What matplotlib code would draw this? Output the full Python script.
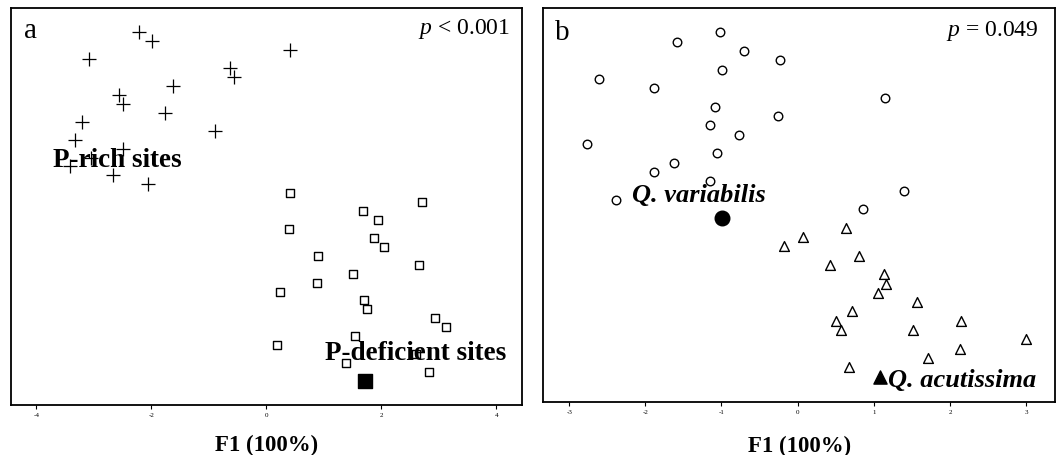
import matplotlib
matplotlib.use("Agg")
import matplotlib.pyplot as plt

plt.rcParams['font.family'] = ['Liberation Serif', 'DejaVu Serif']
plt.rcParams['axes.unicode_minus'] = False
plt.rcParams['mathtext.fontset'] = 'custom'
plt.rcParams['mathtext.rm'] = 'Liberation Serif'
plt.rcParams['mathtext.it'] = 'Liberation Serif:italic'

# panel a: F1 scores by case (case order from top)
rich_f1 = [-2.21, -1.99, 0.42, -3.08, -0.63, -0.56, -1.63, -2.57, -2.49, -1.77,
           -3.21, -0.90, -3.33, -2.50, -3.05, -3.41, -2.66, -2.06]
rich_case = list(range(1, 19))
deficient_f1 = [0.42, 2.71, 1.68, 1.95, 0.40, 1.87, 2.05, 0.90, 2.66, 1.51,
                0.88, 0.24, 1.70, 1.76, 2.93, 3.13, 1.55, 0.19, 2.61, 1.39, 2.84]
deficient_case = list(range(19, 40))
deficient_centroid = (1.72, 40)

# panel b
variabilis_f1 = [-1.02, -1.59, -0.70, -0.23, -0.99, -2.61, -1.88, 1.15, -1.08, -0.26,
                 -1.15, -0.77, -2.77, -1.06, -1.63, -1.88, -1.15, 1.40, -2.38, 0.86]
variabilis_case = list(range(1, 21))
variabilis_centroid = (-0.99, 21)
acutissima_f1 = [0.63, 0.07, -0.18, 0.80, 0.42, 1.14, 1.16, 1.05, 1.57, 0.71,
                 0.50, 2.15, 0.57, 1.52, 3.00, 2.13, 1.71, 0.67]
acutissima_case = [22, 23, 24, 25, 26, 27, 28, 29, 30, 31, 32, 32, 33, 33, 34, 35, 36, 37]
acutissima_centroid = (1.08, 38)

fig = plt.figure(figsize=(10.63, 4.56), dpi=100)
ax1 = fig.add_axes([0.0104, 0.1096, 0.4807, 0.870])
ax2 = fig.add_axes([0.5111, 0.1169, 0.4814, 0.8627])

# panel a
ax1.scatter(rich_f1, rich_case, marker='+', s=100, c='black', linewidths=0.9)
ax1.scatter(deficient_f1, deficient_case, marker='s', s=30, facecolors='white',
            edgecolors='black', linewidths=1.0)
ax1.scatter(*deficient_centroid, marker='s', s=100, c='black')
ax1.set_xlim(-4.44, 4.45)
ax1.set_ylim(42.7, -1.7)
ax1.set_xticks([-4, -2, 0, 2, 4])
ax1.text(0.025, 0.945, 'a', transform=ax1.transAxes, fontsize=21, va='center')
ax1.text(0.977, 0.95, '$p$ < 0.001', transform=ax1.transAxes, fontsize=17,
         ha='right', va='center')
ax1.text(-3.71, 15.2, 'P-rich sites', fontsize=19.5, fontweight='bold', va='center')
ax1.text(1.02, 36.8, 'P-deficient sites', fontsize=19.5, fontweight='bold', va='center')

# panel b
ax2.scatter(variabilis_f1, variabilis_case, marker='o', s=38, facecolors='white',
            edgecolors='black', linewidths=1.0)
ax2.scatter(*variabilis_centroid, marker='o', s=110, c='black')
ax2.scatter(acutissima_f1, acutissima_case, marker='^', s=50, facecolors='white',
            edgecolors='black', linewidths=1.0)
ax2.scatter(*acutissima_centroid, marker='^', s=90, c='black')
ax2.set_xlim(-3.34, 3.38)
ax2.set_ylim(40.7, -1.6)
ax2.set_xticks([-3, -2, -1, 0, 1, 2, 3])
ax2.text(0.022, 0.94, 'b', transform=ax2.transAxes, fontsize=21, va='center')
ax2.text(0.967, 0.944, '$p$ = 0.049', transform=ax2.transAxes, fontsize=17,
         ha='right', va='center')
ax2.text(-2.18, 18.4, 'Q. variabilis', fontsize=19, fontweight='bold',
         fontstyle='italic', va='center')
ax2.text(1.19, 38.3, 'Q. acutissima', fontsize=19, fontweight='bold',
         fontstyle='italic', va='center')

for ax, pad in ((ax1, 12.5), (ax2, 15)):
    ax.set_yticks([])
    ax.tick_params(axis='x', direction='out', length=3, width=0.8, labelsize=5, pad=2)
    for sp in ax.spines.values():
        sp.set_linewidth(1.3)
    ax.set_xlabel('F1 (100%)', fontsize=16.5, fontweight='bold', labelpad=pad)

fig.savefig('out.png', dpi=100)
